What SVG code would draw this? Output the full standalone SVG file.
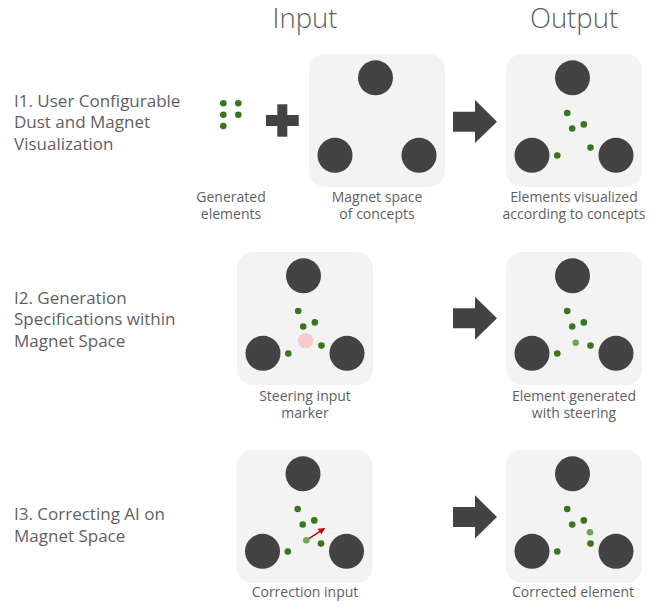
<svg xmlns="http://www.w3.org/2000/svg" width="662" height="607" viewBox="0 0 662 607">
<style>
text{font-family:"Open Sans","DejaVu Sans",sans-serif;fill:#5f5f5f}
.title{font-size:27.5px;font-weight:300;text-anchor:middle}
.label{font-size:17px}
.cap{font-size:14px;text-anchor:middle}
.panel{fill:#f3f3f3}
.mag{fill:#434343}
.dot{fill:#38761d}
.new{fill:#6aa84f}
.block{fill:#434343}
</style>
<defs>
<marker id="redhead" viewBox="0 0 10 10" refX="9" refY="5" markerWidth="6.5" markerHeight="6.5" orient="auto" markerUnits="userSpaceOnUse">
<path d="M0,0 L10,5 L0,10 z" fill="#cc0000"/>
</marker>
<g id="magnets">
<rect class="panel" x="0" y="0" width="136" height="133" rx="16"/>
<circle class="mag" cx="66.5" cy="23.8" r="17.5"/>
<circle class="mag" cx="26" cy="101.3" r="17.5"/>
<circle class="mag" cx="110" cy="101.3" r="17.5"/>
</g>
<g id="dust">
<circle class="dot" cx="61.2" cy="59" r="3.3"/>
<circle class="dot" cx="66.2" cy="74.5" r="3.3"/>
<circle class="dot" cx="77.8" cy="70.4" r="3.3"/>
<circle class="dot" cx="84.5" cy="93.6" r="3.3"/>
<circle class="dot" cx="51.3" cy="101.5" r="3.3"/>
</g>
</defs>

<text class="title" x="305" y="28">Input</text>
<text class="title" x="574" y="28">Output</text>

<g id="row1-label">
<text class="label" x="14" y="106.5">I1. User Configurable</text>
<text class="label" x="14" y="128">Dust and Magnet</text>
<text class="label" x="14" y="149.5">Visualization</text>
</g>
<g id="row2-label">
<text class="label" x="14" y="303.5">I2. Generation</text>
<text class="label" x="14" y="325">Specifications within</text>
<text class="label" x="14" y="346.5">Magnet Space</text>
</g>
<g id="row3-label">
<text class="label" x="14" y="520">I3. Correcting AI on</text>
<text class="label" x="14" y="541.5">Magnet Space</text>
</g>

<g id="generated-elements">
<circle class="dot" cx="223.3" cy="103.3" r="3.3"/>
<circle class="dot" cx="238.3" cy="103.3" r="3.3"/>
<circle class="dot" cx="223.3" cy="114.7" r="3.3"/>
<circle class="dot" cx="238.3" cy="114.7" r="3.3"/>
<circle class="dot" cx="223.3" cy="126" r="3.3"/>
<text class="cap" x="231" y="201.5">Generated</text>
<text class="cap" x="231" y="219.3">elements</text>
</g>

<g id="plus">
<rect class="block" x="266" y="115" width="32.7" height="11"/>
<rect class="block" x="277.3" y="104.3" width="10" height="32.4"/>
</g>

<g id="magnet-space">
<use href="#magnets" x="309" y="54"/>
<text class="cap" x="377" y="201.5">Magnet space</text>
<text class="cap" x="377" y="219.3">of concepts</text>
</g>

<g id="elements-visualized">
<use href="#magnets" x="506" y="54"/>
<use href="#dust" x="506" y="54"/>
<text class="cap" x="574" y="201.5">Elements visualized</text>
<text class="cap" x="574" y="219.3">according to concepts</text>
</g>

<g id="steering-input">
<use href="#magnets" x="237" y="252"/>
<circle cx="305.7" cy="340.7" r="7.7" fill="#f4cccc"/>
<use href="#dust" x="237" y="252"/>
<text class="cap" x="305" y="400.7">Steering input</text>
<text class="cap" x="305" y="418.3">marker</text>
</g>

<g id="element-generated">
<use href="#magnets" x="506" y="252"/>
<use href="#dust" x="506" y="252"/>
<circle class="new" cx="575.7" cy="342.7" r="3.3"/>
<text class="cap" x="574" y="400.7">Element generated</text>
<text class="cap" x="574" y="418.3">with steering</text>
</g>

<g id="correction-input">
<use href="#magnets" x="236.5" y="450"/>
<use href="#dust" x="236.5" y="450"/>
<line x1="306.3" y1="540.3" x2="324.5" y2="528.4" stroke="#cc0000" stroke-width="1.5" marker-end="url(#redhead)"/>
<circle class="new" cx="306.3" cy="540.3" r="3.3"/>
<text class="cap" x="305" y="596.7">Correction input</text>
</g>

<g id="corrected-element">
<use href="#magnets" x="506" y="450"/>
<use href="#dust" x="506" y="450"/>
<circle class="new" cx="590" cy="532.3" r="3.3"/>
<text class="cap" x="573" y="596.7">Corrected element</text>
</g>

<g id="connectors">
<polygon class="block" points="453,111.7 475,111.7 475,100 497,121.7 475,143 475,131.7 453,131.7"/>
<polygon class="block" points="453,308.3 475,308.3 475,296.7 497,318.3 475,339.7 475,328.3 453,328.3"/>
<polygon class="block" points="453,507 475,507 475,495.3 497,517 475,538.4 475,527 453,527"/>
</g>
</svg>
